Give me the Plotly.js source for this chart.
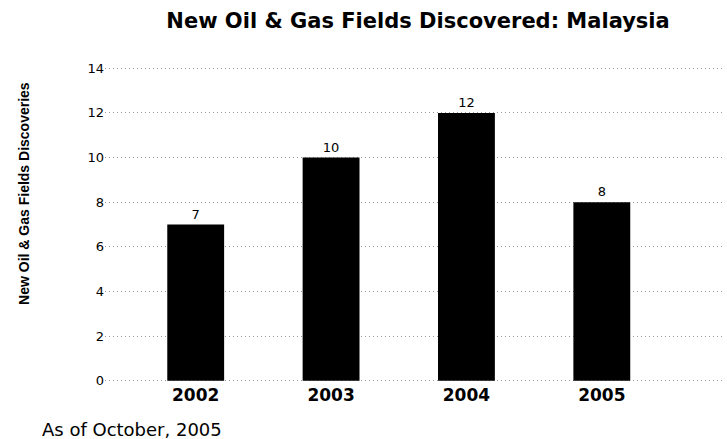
<!DOCTYPE html>
<html>
<head>
<meta charset="utf-8">
<script src="https://cdn.plot.ly/plotly-3.0.1.min.js"></script>
<style>html,body{margin:0;padding:0;background:#fff;}#chart{width:727px;height:439px;}</style>
</head>
<body>
<div id="chart"></div>
<script>
const years = ['2002', '2003', '2004', '2005'];
const discoveries = [7, 10, 12, 8];
const yTicks = [0, 2, 4, 6, 8, 10, 12, 14];

const trace = {
  type: 'bar',
  x: years,
  y: discoveries,
  text: discoveries.map(String),
  textposition: 'outside',
  cliponaxis: false,
  textfont: {family: 'DejaVu Sans', size: 13, color: '#000'},
  marker: {color: '#000', line: {color: '#000', width: 0}},
  width: 0.42,
  hoverinfo: 'none'
};

const layout = {
  width: 727, height: 439,
  margin: {l: 105, r: 2, t: 66, b: 56},
  paper_bgcolor: '#fff', plot_bgcolor: '#fff',
  showlegend: false,
  title: {
    text: 'New Oil & Gas Fields Discovered: Malaysia',
    font: {family: 'DejaVu Sans', size: 21, color: '#000', weight: 'bold'},
    xref: 'container', x: 0.575, xanchor: 'center',
    yref: 'container', y: 0.954, yanchor: 'middle'
  },
  xaxis: {
    type: 'category',
    range: [-0.67, 3.91],
    showgrid: false, zeroline: false, showline: false, ticks: '',
    tickfont: {family: 'DejaVu Sans', size: 17, color: '#000', weight: 'bold'}
  },
  yaxis: {
    range: [-0.1, 14.1],
    tickvals: yTicks,
    ticktext: yTicks.map(String),
    showgrid: true, gridcolor: '#999', griddash: '1px,3px', gridwidth: 1,
    zeroline: false, showline: false, ticks: '',
    tickfont: {family: 'DejaVu Sans', size: 13, color: '#000'}
  },
  annotations: [
    {
      text: 'New Oil & Gas Fields Discoveries',
      textangle: -90,
      xref: 'paper', yref: 'paper', x: -0.131, y: 0.599,
      xanchor: 'center', yanchor: 'middle', showarrow: false,
      font: {family: 'Liberation Sans Narrow, Liberation Sans', size: 14, color: '#000', weight: 'bold'}
    },
    {
      text: 'As of October, 2005',
      xref: 'paper', yref: 'paper', x: -0.105, y: -0.148,
      xanchor: 'left', yanchor: 'middle', showarrow: false,
      font: {family: 'DejaVu Sans', size: 18, color: '#000'}
    }
  ]
};

Plotly.newPlot('chart', [trace], layout, {displayModeBar: false, staticPlot: true});
</script>
</body>
</html>
